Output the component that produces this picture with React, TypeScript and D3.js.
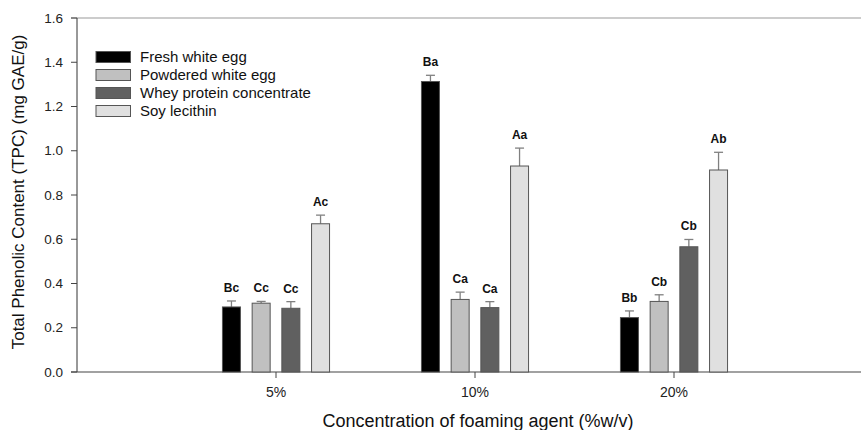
import React from "react";
import * as d3 from "d3";

// Foaming agent concentrations (x categories)
const concentrations = ["5%", "10%", "20%"];
// Foaming agent types (series)
const agents = [
  "Fresh white egg",
  "Powdered white egg",
  "Whey protein concentrate",
  "Soy lecithin",
];
// Mean TPC (mg GAE/g) per agent, one value per concentration
const freshWhiteEgg = [0.294, 1.313, 0.246];
const powderedWhiteEgg = [0.311, 0.328, 0.319];
const wheyProtein = [0.288, 0.291, 0.566];
const soyLecithin = [0.670, 0.931, 0.913];
// Standard deviations (upper error bars)
const freshWhiteEggErr = [0.027, 0.028, 0.030];
const powderedWhiteEggErr = [0.008, 0.033, 0.030];
const wheyProteinErr = [0.030, 0.027, 0.033];
const soyLecithinErr = [0.039, 0.081, 0.080];
// Significance letters
const freshWhiteEggSig = ["Bc", "Ba", "Bb"];
const powderedWhiteEggSig = ["Cc", "Ca", "Cb"];
const wheyProteinSig = ["Cc", "Ca", "Cb"];
const soyLecithinSig = ["Ac", "Aa", "Ab"];
// Y axis tick values
const yTicks = [0, 0.2, 0.4, 0.6, 0.8, 1.0, 1.2, 1.4, 1.6];

const fills = ["#000000", "#c0c0c0", "#606060", "#e0e0e0"];

const W = 861;
const H = 430;
const left = 77;
const top = 18;
const bottom = 372;
const font = "Arial, 'Liberation Sans', sans-serif";

export default function App() {
  const values = [freshWhiteEgg, powderedWhiteEgg, wheyProtein, soyLecithin];
  const errs = [freshWhiteEggErr, powderedWhiteEggErr, wheyProteinErr, soyLecithinErr];
  const sigs = [freshWhiteEggSig, powderedWhiteEggSig, wheyProteinSig, soyLecithinSig];

  const y = d3.scaleLinear().domain([0, 1.6]).range([bottom, top]);
  const x = d3.scaleLinear().domain([0, 4]).range([left, 873]);
  const inner = d3
    .scaleBand<string>()
    .domain(agents)
    .range([-59.4, 59.4])
    .paddingInner(0.394)
    .paddingOuter(0.197);
  const fmt = d3.format(".1f");

  return (
    <svg
      width={W}
      height={H}
      style={{ position: "absolute", left: 0, top: 0, background: "#fff" }}
      fontFamily={font}
    >
      {/* frame: top line, left axis, bottom axis */}
      <line x1={71} x2={W} y1={top} y2={top} stroke="#999" strokeWidth={1.2} />
      <line x1={left} x2={left} y1={top} y2={bottom} stroke="#333" strokeWidth={1} />
      <line x1={71} x2={W} y1={bottom} y2={bottom} stroke="#444" strokeWidth={1.2} />

      {/* y ticks */}
      {yTicks.map((t) => (
        <g key={t}>
          <line x1={71} x2={left} y1={y(t)} y2={y(t)} stroke="#444" />
          <text x={63} y={y(t)} dy="0.35em" textAnchor="end" fontSize={13.5} fill="#222">
            {fmt(t)}
          </text>
        </g>
      ))}

      {/* x ticks */}
      {concentrations.map((c, i) => (
        <g key={c}>
          <line x1={x(i + 1)} x2={x(i + 1)} y1={bottom} y2={bottom + 6} stroke="#444" />
          <text x={x(i + 1)} y={397} textAnchor="middle" fontSize={14} fill="#222">
            {c}
          </text>
        </g>
      ))}

      {/* bars, error bars, letters */}
      {concentrations.map((c, i) =>
        agents.map((a, j) => {
          const bx = x(i + 1) + (inner(a) as number);
          const bw = inner.bandwidth();
          const v = values[j][i];
          const e = errs[j][i];
          const cx = bx + bw / 2;
          return (
            <g key={c + a}>
              <line x1={cx} x2={cx} y1={y(v)} y2={y(v + e)} stroke="#808080" strokeWidth={1.3} />
              <line x1={cx - 4.5} x2={cx + 4.5} y1={y(v + e)} y2={y(v + e)} stroke="#808080" strokeWidth={1.3} />
              <rect
                x={bx}
                y={y(v)}
                width={bw}
                height={bottom - y(v)}
                fill={fills[j]}
                stroke="#555"
                strokeWidth={1}
              />
              <text
                x={cx}
                y={y(v + e) - 9}
                textAnchor="middle"
                fontSize={12}
                fontWeight="bold"
                fill="#111"
              >
                {sigs[j][i]}
              </text>
            </g>
          );
        })
      )}

      {/* legend */}
      {agents.map((a, j) => (
        <g key={a} transform={`translate(96, ${51.5 + j * 18})`}>
          <rect x={0} y={0} width={34.5} height={11} fill={fills[j]} stroke="#555" strokeWidth={1} />
          <text x={44} y={5.5} dy="0.36em" fontSize={15} fill="#111">
            {a}
          </text>
        </g>
      ))}

      {/* axis titles */}
      <text
        transform={`translate(24, 192) rotate(-90)`}
        textAnchor="middle"
        fontSize={17}
        fill="#111"
      >
        Total Phenolic Content (TPC) (mg GAE/g)
      </text>
      <text x={478} y={427} textAnchor="middle" fontSize={18} fill="#111">
        Concentration of foaming agent (%w/v)
      </text>
    </svg>
  );
}
